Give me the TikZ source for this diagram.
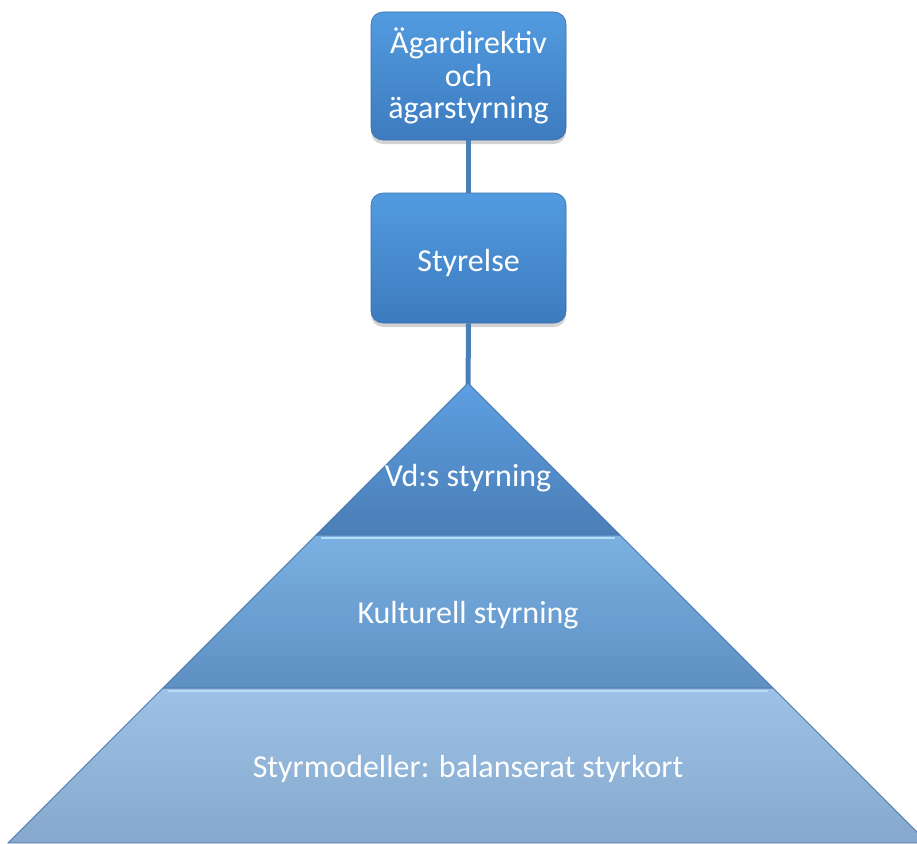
\documentclass[tikz,border=0pt]{standalone}
\usepackage{fontspec}
\setmainfont{Carlito}
\usetikzlibrary{shadows}
\definecolor{boxtop}{HTML}{529BE0}
\definecolor{boxbot}{HTML}{3D7BBE}
\definecolor{boxedge}{HTML}{3A6FA8}
\definecolor{linkcol}{HTML}{4A7EB6}
\definecolor{taTop}{HTML}{5E9FE2}
\definecolor{taBot}{HTML}{4A7EB6}
\definecolor{tbTop}{HTML}{7AB0E2}
\definecolor{tbBot}{HTML}{5E8FC3}
\definecolor{tcTop}{HTML}{9DC2E6}
\definecolor{tcBot}{HTML}{86A8CD}
\definecolor{tieredge}{HTML}{4A78AC}
\definecolor{bevel}{HTML}{B6DDF6}
\begin{document}
\begin{tikzpicture}[x=1pt,y=-1pt,
  box/.style={rounded corners=12pt, minimum width=195pt, top color=boxtop, bottom color=boxbot,
    draw=boxedge, line width=0.6pt, text=white, align=center, inner sep=0pt,
    font=\fontsize{32}{32.5}\selectfont,
    drop shadow={opacity=0.35, shadow xshift=0pt, shadow yshift=-4pt}},
  link/.style={draw=linkcol, line width=5pt},
  tier/.style={draw=tieredge, line width=0.8pt, line join=miter},
  bevelline/.style={draw=bevel, line width=2.6pt},
  lbl/.style={text=white, font=\fontsize{32}{33}\selectfont, inner sep=0pt}
]
\clip (0,0) rectangle (917,843);
\fill[white] (0,0) rectangle (917,843);

% pyramid geometry: apex (468,383), slope 1
\coordinate (apex) at (468,383);
\coordinate (a1) at (316,535);
\coordinate (a2) at (620,535);
\coordinate (b1) at (163,688);
\coordinate (b2) at (773,688);
\coordinate (c1) at (8,843);
\coordinate (c2) at (928,843);

% boxes
\node[box, minimum height=128pt] (own) at (468.5,76) {Ägardirektiv\\och\\ägarstyrning};
\node[box, minimum height=130pt] (board) at (468.5,258) {\raisebox{-5pt}[\height][\depth]{Styrelse}};

% connectors
\draw[link] (own.south) -- (board.north);
\draw[link] (board.south) -- ([yshift=-8pt]apex);

% tiers
\shade[tier, top color=tcTop, bottom color=tcBot] (b1) -- (b2) -- (c2) -- (c1) -- cycle;
\shade[tier, top color=tbTop, bottom color=tbBot] (a1) -- (a2) -- (b2) -- (b1) -- cycle;
\shade[tier, top color=taTop, bottom color=taBot] (apex) -- (a2) -- (a1) -- cycle;
\draw[bevelline] (168,691) -- (768,691);
\draw[bevelline] (321,538) -- (615,538);

% labels
\node[lbl] (t1) at (468,478) {Vd:s styrning};
\node[lbl] (t2) at (468,615) {Kulturell styrning};
\node[lbl] (t3) at (468,769) {Styrmodeller: balanserat styrkort};
\end{tikzpicture}
\end{document}
